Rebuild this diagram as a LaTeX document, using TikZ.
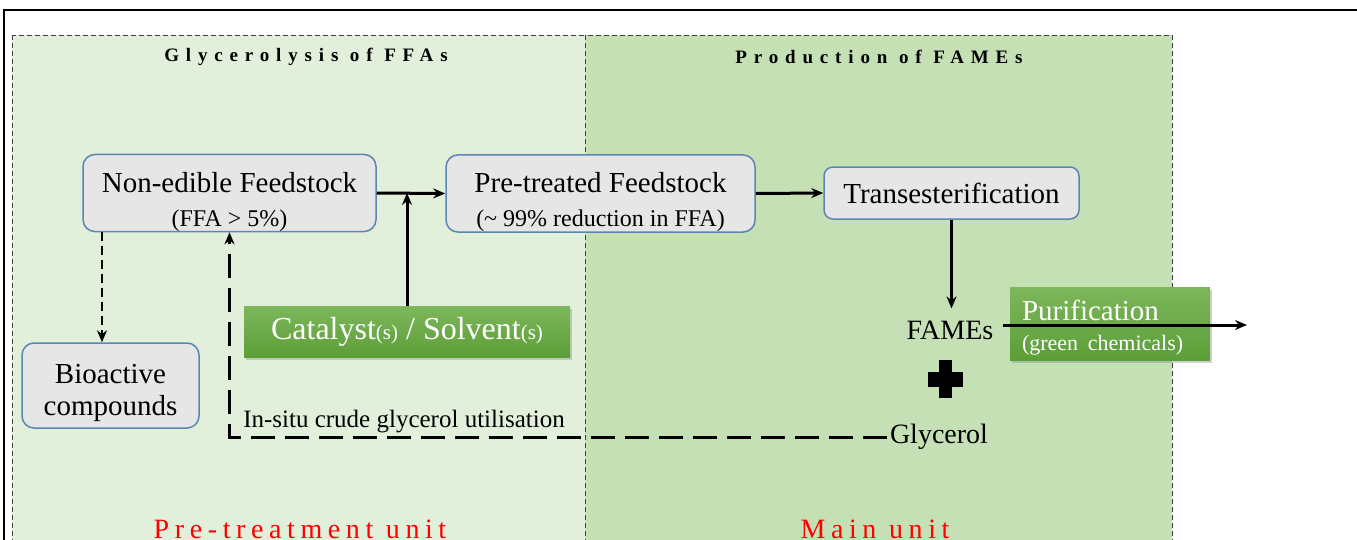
\documentclass[tikz,border=0pt]{standalone}
\usepackage{fontspec}
\setmainfont{Liberation Serif}
\newfontfamily\headfont[LetterSpace=36]{Liberation Serif}
\newfontfamily\unitfont[LetterSpace=20]{Liberation Serif}
\usetikzlibrary{shadows,arrows.meta}
\definecolor{paneleft}{HTML}{E2EFDA}
\definecolor{panelright}{HTML}{C5E0B4}
\definecolor{boxgray}{HTML}{E7E6E6}
\definecolor{boxedge}{HTML}{5A86B6}
\definecolor{greentop}{HTML}{7DB75B}
\definecolor{greenbot}{HTML}{5C9E38}
\definecolor{paneledge}{HTML}{404040}
\newcommand\lift[1]{\rule{0pt}{#1}}
\tikzset{
  procbox/.style={draw=boxedge,line width=1.5pt,fill=boxgray,rounded corners=12pt,align=center,
    inner sep=0pt,font=\fontsize{29}{34}\selectfont},
  greenbox/.style={top color=greentop,bottom color=greenbot,text=white,inner sep=0pt,
    drop shadow={shadow xshift=2pt,shadow yshift=-3pt,opacity=0.35}},
  panel/.style={draw=paneledge,line width=1pt,dash pattern=on 5pt off 3pt},
  flow/.style={->,line width=3pt},
  recycle/.style={->,line width=3pt,dash pattern=on 24pt off 10pt},
  plain/.style={font=\fontsize{28}{32}\selectfont},
  headtext/.style={font=\fontsize{19}{19}\selectfont\headfont\bfseries},
  unittext/.style={red,anchor=base,font=\fontsize{28}{28}\selectfont\unitfont}
}
\begin{document}
\begin{tikzpicture}[>={Stealth[length=12pt,width=10pt]},x=1pt,y=-1pt]
    \useasboundingbox (0,0) rectangle (1357,539);
    \fill[white] (0,0) rectangle (1357,539);
    \draw[panel,fill=paneleft] (12,35) rectangle (585,560);
    \draw[panel,fill=panelright] (585,35) rectangle (1172,560);
    \draw[line width=2pt] (4,560)--(4,10)--(1380,10);
    \node[headtext] (headL) at (306,57) {Glycerolysis of FFAs};
    \node[headtext] (headR) at (879,57) {Production of FAMEs};
    \node[unittext] (unitL) at (300,538) {Pre-treatment unit};
    \node[unittext] (unitR) at (875,538) {Main unit};
    \node[procbox,minimum width=293pt,minimum height=75pt] (feed) at (229.5,193)
        {\lift{38pt}Non-edible Feedstock\\{\fontsize{24}{24}\selectfont(FFA > 5\%)}};
    \node[procbox,minimum width=309pt,minimum height=75pt] (pre) at (600.5,193.5)
        {\lift{38pt}Pre-treated Feedstock\\{\fontsize{24}{24}\selectfont(\textasciitilde\ 99\% reduction in FFA)}};
    \node[procbox,rounded corners=9pt,minimum width=255pt,minimum height=52pt] (trans) at (951.5,193) {Transesterification};
    \node[procbox,font=\fontsize{29}{32}\selectfont,minimum width=177pt,minimum height=85pt] (bio) at (110.5,385.5)
        {\lift{34pt}Bioactive\\compounds};
    \node[greenbox,minimum width=326pt,minimum height=51pt,font=\fontsize{32}{32}\selectfont] (cat) at (407,331.5)
        {Catalyst{\fontsize{21}{21}\selectfont(s)} / Solvent{\fontsize{21}{21}\selectfont(s)}};
    \node[greenbox,minimum width=200pt,minimum height=73pt,align=left,text width=176pt,font=\fontsize{29}{30}\selectfont] (puri) at (1110,323.5)
        {\lift{28pt}Purification\\{\fontsize{22}{24}\selectfont(green chemicals)}};
    \node[plain,inner xsep=3pt,inner ysep=12pt] (fames) at (950,330) {FAMEs};
    \node[plain,inner sep=3pt] (glyc) at (939,437) {Glycerol};
    \node[font=\fontsize{25}{25}\selectfont] (insitu) at (404,422) {In-situ crude glycerol utilisation};
    \fill (939,360) rectangle (952,398);
    \fill (928,372) rectangle (963,387);
    \coordinate (split) at (102,0);
    \coordinate (out) at (1247,325);
    \draw[flow] (feed.east)--(pre.west);
    \draw[flow] (pre.east)--(trans.west);
    \draw[flow] (cat.north)--(cat.north |- feed.east);
    \draw[flow] (trans.south)--(trans.south |- fames.north);
    \draw[flow,shorten <=6pt] (fames.east |- out)--(out);
    \draw[->,line width=2.5pt,dash pattern=on 9pt off 5pt] (feed.south -| split)--(bio.north -| split);
    \draw[recycle] (glyc.west)-|(feed.south);
\end{tikzpicture}
\end{document}
